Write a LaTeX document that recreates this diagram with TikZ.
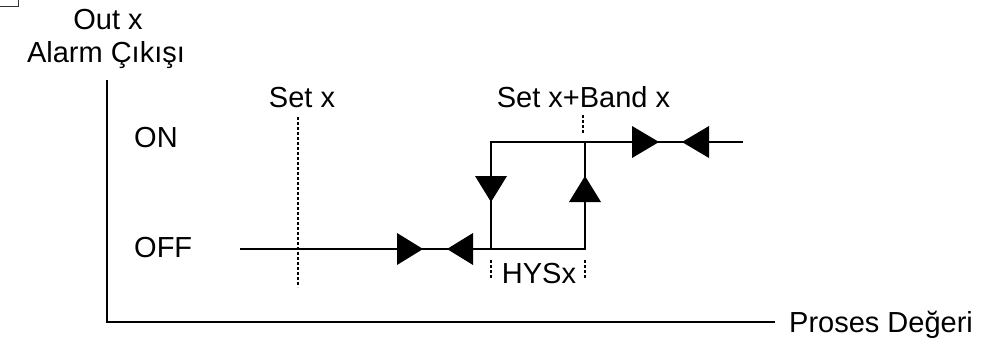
\documentclass[tikz,border=0pt]{standalone}
\usepackage{fontspec}
\setmainfont{Liberation Sans}
\begin{document}
\begin{tikzpicture}[x=1pt,y=-1pt,
  line/.style={line width=2pt},
  guide/.style={line width=1.5pt,dash pattern=on 3pt off 2pt},
  lbl/.style={font=\fontsize{29}{33}\selectfont, inner sep=0pt, anchor=base},
  tri/.style={fill=black}]
\useasboundingbox (0,0) rectangle (989,348);
% corner fragment
\draw[line width=1.5pt, black!80] (0,6.5) -- (18.5,6.5) -- (18.5,0);
% axes
\coordinate (ytop) at (107,80);
\coordinate (orig) at (107,322);
\coordinate (xend) at (775,322);
\draw[line] (ytop) -- (orig) -- (xend);
\node[lbl] (outx) at (108,30) {Out x};
\node[lbl] (alarm) at (106,62) {Alarm Çıkışı};
\node[lbl, anchor=base west] (proses) at (789,332) {Proses Değeri};
\node[lbl, anchor=base west] (on) at (134,147) {ON};
\node[lbl, anchor=base west] (off) at (134,257) {OFF};
% set x guide
\coordinate (sxt) at (298,117);
\coordinate (sxb) at (298,287);
\draw[guide] (sxt) -- (sxb);
\node[lbl] (setx) at (302,107) {Set x};
% set x + band guide
\coordinate (sbt) at (583,115);
\coordinate (sbb) at (583,134);
\draw[guide] (sbt) -- (sbb);
\node[lbl] (setband) at (583.5,107) {Set x+Band x};
% hysteresis marks
\coordinate (h1t) at (491,260);
\coordinate (h1b) at (491,278);
\coordinate (h2t) at (585,260);
\coordinate (h2b) at (585,278);
\draw[guide] (h1t) -- (h1b);
\draw[guide] (h2t) -- (h2b);
\node[lbl] (hys) at (539,283) {HYSx};
% curve
\coordinate (offs) at (240,249);
\coordinate (offe) at (491,249);
\coordinate (rb) at (585,249);
\coordinate (rt) at (585,142);
\coordinate (lt) at (491,142);
\coordinate (one) at (743,142);
\draw[line] (offs) -- (offe) -- (lt) -- (one);
\draw[line] (offe) -- (rb) -- (rt);
% triangles on OFF line
\fill[tri] (397,233) -- (423,249) -- (397,265) -- cycle;
\fill[tri] (473,233) -- (447,249) -- (473,265) -- cycle;
% triangles on ON line
\fill[tri] (632,126) -- (659,142) -- (632,158) -- cycle;
\fill[tri] (709,126) -- (682,142) -- (709,158) -- cycle;
% vertical triangles
\fill[tri] (475,176) -- (507,176) -- (491,202) -- cycle;
\fill[tri] (569,202) -- (601,202) -- (585,176) -- cycle;
\end{tikzpicture}
\end{document}
